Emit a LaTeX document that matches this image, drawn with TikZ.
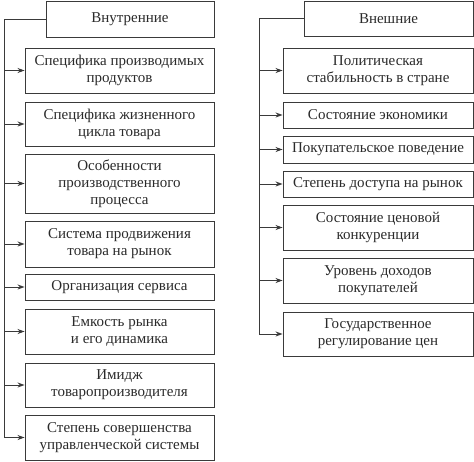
\documentclass[tikz,border=0pt]{standalone}
\usepackage{fontspec}
\setmainfont{Liberation Serif}
\usetikzlibrary{arrows.meta}
\definecolor{ln}{HTML}{3A3A3A}
\definecolor{tx}{HTML}{2A2A2A}
\tikzset{
  box/.style={draw=ln, line width=0.9pt, text=tx, align=center, inner sep=0pt,
    font=\fontsize{15}{17}\selectfont},
  conn/.style={draw=ln, line width=0.9pt},
  arr/.style={conn, -{Stealth[length=7pt,width=5pt]}}
}
\begin{document}
\begin{tikzpicture}[x=1pt,y=-1pt]
\useasboundingbox (0,0) rectangle (474,461);
% left column
\node[box, minimum width=168, minimum height=36] (hL) at (130,19) {Внутренние};
\node[box, minimum width=189, minimum height=45] (l1) at (119.5,70.5) {Специфика производимых\\продуктов};
\node[box, minimum width=189, minimum height=44] (l2) at (119.5,124) {Специфика жизненного\\цикла товара};
\node[box, minimum width=189, minimum height=59] (l3) at (119.5,183.5) {Особенности\\производственного\\процесса};
\node[box, minimum width=189, minimum height=46] (l4) at (119.5,244) {Система продвижения\\товара на рынок};
\node[box, minimum width=189, minimum height=26] (l5) at (119.5,287) {Организация сервиса};
\node[box, minimum width=189, minimum height=45] (l6) at (119.5,331.5) {Емкость рынка\\и его динамика};
\node[box, minimum width=189, minimum height=44] (l7) at (119.5,385) {Имидж\\товаропроизводителя};
\node[box, minimum width=189, minimum height=45] (l8) at (119.5,437.5) {Степень совершенства\\управленческой системы};
\coordinate (tl) at (4,19);
\draw[conn] (hL.west) -- (tl) -- (tl |- l8.west);
\foreach \n in {l1,l2,l3,l4,l5,l6,l7,l8}
  \draw[arr] (tl |- \n.west) -- (\n.west);
% right column
\node[box, minimum width=169, minimum height=35] (hR) at (388.5,18.5) {Внешние};
\node[box, minimum width=190, minimum height=45] (r1) at (378,70.5) {Политическая\\стабильность в стране};
\node[box, minimum width=190, minimum height=26] (r2) at (378,115) {Состояние экономики};
\node[box, minimum width=190, minimum height=27] (r3) at (378,149.5) {Покупательское поведение};
\node[box, minimum width=190, minimum height=26] (r4) at (378,184) {Степень доступа на рынок};
\node[box, minimum width=190, minimum height=45] (r5) at (378,227.5) {Состояние ценовой\\конкуренции};
\node[box, minimum width=190, minimum height=45] (r6) at (378,280.5) {Уровень доходов\\покупателей};
\node[box, minimum width=190, minimum height=44] (r7) at (378,334) {Государственное\\регулирование цен};
\coordinate (tr) at (259,18.5);
\draw[conn] (hR.west) -- (tr) -- (tr |- r7.west);
\foreach \n in {r1,r2,r3,r4,r5,r6,r7}
  \draw[arr] (tr |- \n.west) -- (\n.west);
\end{tikzpicture}
\end{document}
